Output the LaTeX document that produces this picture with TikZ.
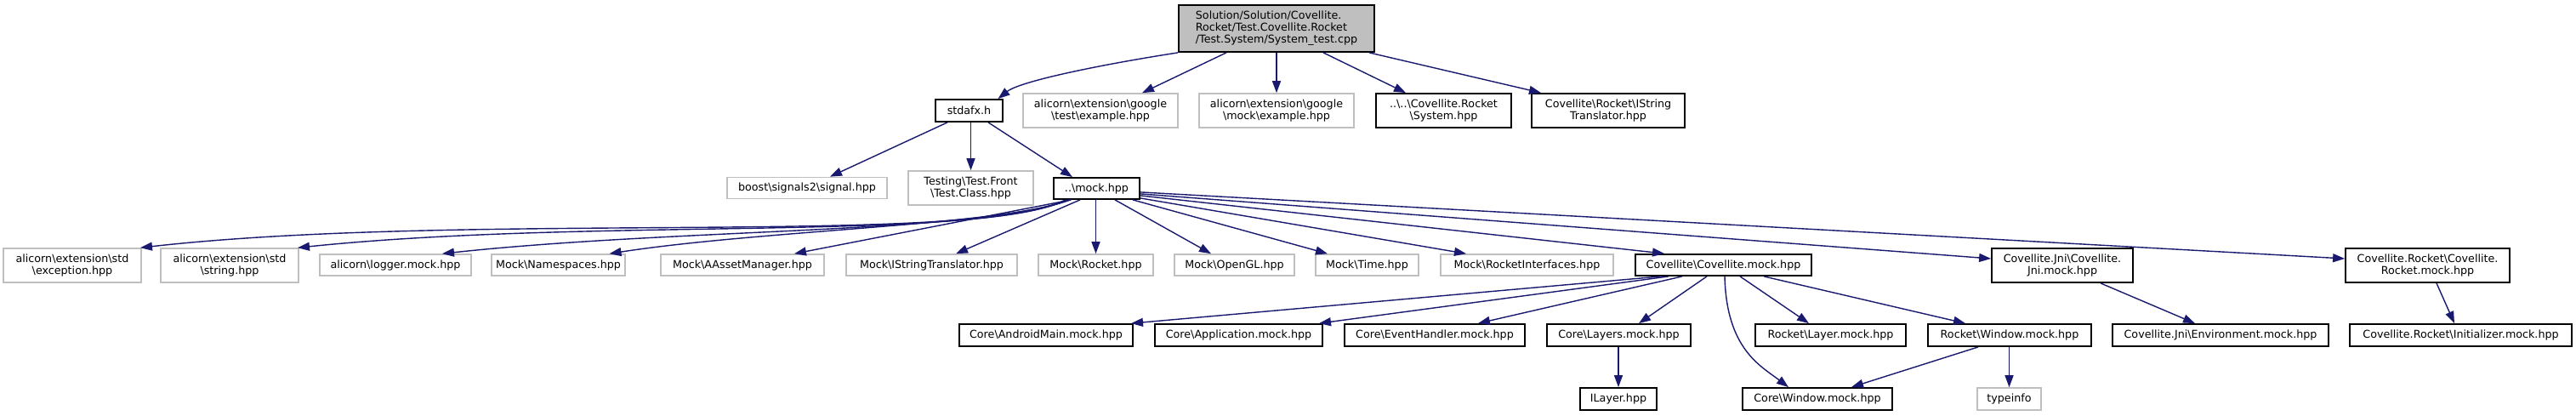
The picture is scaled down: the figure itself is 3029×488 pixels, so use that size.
\documentclass[tikz,border=0pt]{standalone}
\usepackage{fontspec}
\setmainfont{DejaVu Sans}
\usetikzlibrary{arrows.meta,calc}
\definecolor{edgeblue}{HTML}{191970}
\definecolor{grayline}{HTML}{BFBFBF}
\newcommand{\bsl}{\textbackslash}
\begin{document}
\begin{tikzpicture}[x=1pt,y=-1pt,
  base/.style={draw, line width=1.6pt, inner sep=0pt, font=\fontsize{12.7}{14}\selectfont, align=center},
  docbox/.style={base, draw=black, line width=1.8pt},
  extbox/.style={base, draw=grayline},
  rootbox/.style={base, draw=black, line width=1.8pt, fill=grayline, align=left},
  edge/.style={draw=edgeblue, line width=1.4pt, -{Triangle[length=14pt,width=10pt]}}]
\fill[white] (0,0) rectangle (3029,488);
\useasboundingbox (0,0) rectangle (3029,488);
% row 0
\node[rootbox, minimum width=230pt, minimum height=55pt] (root) at (1501,33.5) {Solution/Solution/Covellite.\\Rocket/Test.Covellite.Rocket\\/Test.System/System\_test.cpp};
% row 1
\node[docbox, minimum width=79pt, minimum height=26pt] (stdafx) at (1139.5,130) {stdafx.h};
\node[extbox, minimum width=182pt, minimum height=40pt] (gtest) at (1294,130) {alicorn\bsl extension\bsl google\\\bsl test\bsl example.hpp};
\node[extbox, minimum width=182pt, minimum height=40pt] (gmock) at (1501,130) {alicorn\bsl extension\bsl google\\\bsl mock\bsl example.hpp};
\node[docbox, minimum width=159pt, minimum height=40pt] (system) at (1697.5,130) {..\bsl ..\bsl Covellite.Rocket\\\bsl System.hpp};
\node[docbox, minimum width=180pt, minimum height=40pt] (istr) at (1891,130) {Covellite\bsl Rocket\bsl IString\\Translator.hpp};
% row 2
\node[extbox, minimum width=188pt, minimum height=25pt] (boost) at (949,221) {boost\bsl signals2\bsl signal.hpp};
\node[extbox, minimum width=147pt, minimum height=40pt] (testing) at (1141.5,221) {Testing\bsl Test.Front\\\bsl Test.Class.hpp};
\node[docbox, minimum width=101pt, minimum height=25pt] (mock) at (1289.5,221.5) {..\bsl mock.hpp};
% row 3
\node[extbox, minimum width=162pt, minimum height=40pt] (exception) at (85,312) {alicorn\bsl extension\bsl std\\\bsl exception.hpp};
\node[extbox, minimum width=162pt, minimum height=40pt] (string) at (270,312) {alicorn\bsl extension\bsl std\\\bsl string.hpp};
\node[extbox, minimum width=178pt, minimum height=25pt] (logger) at (465,311.5) {alicorn\bsl logger.mock.hpp};
\node[extbox, minimum width=157pt, minimum height=25pt] (namespaces) at (656.5,311.5) {Mock\bsl Namespaces.hpp};
\node[extbox, minimum width=192pt, minimum height=25pt] (aasset) at (873,311.5) {Mock\bsl AAssetManager.hpp};
\node[extbox, minimum width=201pt, minimum height=25pt] (mistr) at (1095.5,311.5) {Mock\bsl IStringTranslator.hpp};
\node[extbox, minimum width=135pt, minimum height=25pt] (mrocket) at (1288.5,311.5) {Mock\bsl Rocket.hpp};
\node[extbox, minimum width=141pt, minimum height=25pt] (opengl) at (1451.5,311.5) {Mock\bsl OpenGL.hpp};
\node[extbox, minimum width=121pt, minimum height=25pt] (time) at (1607.5,311.5) {Mock\bsl Time.hpp};
\node[extbox, minimum width=203pt, minimum height=25pt] (rint) at (1795.5,311.5) {Mock\bsl RocketInterfaces.hpp};
\node[docbox, minimum width=207pt, minimum height=25pt] (cmock) at (2026.5,311.5) {Covellite\bsl Covellite.mock.hpp};
\node[docbox, minimum width=166pt, minimum height=40pt] (jni) at (2425,312) {Covellite.Jni\bsl Covellite.\\Jni.mock.hpp};
\node[docbox, minimum width=193pt, minimum height=40pt] (rmock) at (2854.5,312) {Covellite.Rocket\bsl Covellite.\\Rocket.mock.hpp};
% row 4
\node[docbox, minimum width=204pt, minimum height=26pt] (android) at (1230,394) {Core\bsl AndroidMain.mock.hpp};
\node[docbox, minimum width=197pt, minimum height=26pt] (app) at (1456.5,394) {Core\bsl Application.mock.hpp};
\node[docbox, minimum width=212pt, minimum height=26pt] (event) at (1687,394) {Core\bsl EventHandler.mock.hpp};
\node[docbox, minimum width=169pt, minimum height=26pt] (layers) at (1903.5,394) {Core\bsl Layers.mock.hpp};
\node[docbox, minimum width=177pt, minimum height=26pt] (rlayer) at (2152.5,394) {Rocket\bsl Layer.mock.hpp};
\node[docbox, minimum width=192pt, minimum height=26pt] (rwin) at (2363,394) {Rocket\bsl Window.mock.hpp};
\node[docbox, minimum width=254pt, minimum height=26pt] (env) at (2611,394) {Covellite.Jni\bsl Environment.mock.hpp};
\node[docbox, minimum width=261pt, minimum height=26pt] (init) at (2893.5,394) {Covellite.Rocket\bsl Initializer.mock.hpp};
% row 5
\node[docbox, minimum width=90pt, minimum height=26pt] (ilayer) at (1903,469) {ILayer.hpp};
\node[docbox, minimum width=176pt, minimum height=26pt] (cwin) at (2137,469) {Core\bsl Window.mock.hpp};
\node[extbox, minimum width=75pt, minimum height=26pt] (typeinfo) at (2362.5,469) {typeinfo};
% edges from root
\draw[edge] (root.south west) .. controls (1300,75) and (1200,95) .. ([xshift=34pt]stdafx.north);
\draw[edge] ([xshift=-59pt]root.south) -- ([xshift=49pt]gtest.north);
\draw[edge] (root.south) -- (gmock.north);
\draw[edge] ([xshift=55pt]root.south) -- ([xshift=-44.5pt]system.north);
\draw[edge] ([xshift=109pt]root.south) -- ([xshift=-79pt]istr.north);
% edges from stdafx
\draw[edge] ([xshift=-25.5pt]stdafx.south) -- ([xshift=27pt]boost.north);
\draw[edge] (testing.north |- stdafx.south) -- (testing.north);
\draw[edge] ([xshift=22.5pt]stdafx.south) -- ([xshift=-28.5pt]mock.north);
% edges from mock
\draw[edge] ([xshift=-37pt]mock.south) .. controls (1150,290) and (550,248) .. ([xshift=80pt]exception.north);
\draw[edge] ([xshift=-35pt]mock.south) .. controls (1150,285) and (700,255) .. ([xshift=80pt]string.north);
\draw[edge] ([xshift=-33pt]mock.south) .. controls (1150,275) and (800,268) .. ([xshift=55pt]logger.north);
\draw[edge] ([xshift=-31pt]mock.south) .. controls (1180,265) and (900,270) .. ([xshift=60pt]namespaces.north);
\draw[edge] ([xshift=-30pt]mock.south) -- ([xshift=61pt]aasset.north);
\draw[edge] ([xshift=-19.5pt]mock.south) -- ([xshift=28.5pt]mistr.north);
\draw[edge] (mrocket.north |- mock.south) -- (mrocket.north);
\draw[edge] ([xshift=21.5pt]mock.south) -- ([xshift=-27.5pt]opengl.north);
\draw[edge] ([xshift=42.5pt]mock.south) -- ([xshift=-46.5pt]time.north);
\draw[edge] ([yshift=2pt]mock.south east) -- ([xshift=-71.5pt]rint.north);
\draw[edge] ([yshift=5pt]mock.south east) -- ([xshift=-69.5pt]cmock.north);
\draw[edge] ([yshift=7pt]mock.south east) -- ([yshift=8pt]jni.west);
\draw[edge] ([yshift=9pt]mock.south east) -- ([yshift=8pt]rmock.west);
% edges from cmock
\draw[edge] ([xshift=-73.5pt]cmock.south) -- ([xshift=100pt]android.north);
\draw[edge] ([xshift=-64.5pt]cmock.south) -- ([xshift=94.5pt]app.north);
\draw[edge] ([xshift=-48.5pt]cmock.south) -- ([xshift=51pt]event.north);
\draw[edge] ([xshift=-19.5pt]cmock.south) -- ([xshift=23.5pt]layers.north);
\draw[edge] ([xshift=19.5pt]cmock.south) -- ([xshift=-25.5pt]rlayer.north);
\draw[edge] ([xshift=47.5pt]cmock.south) -- ([xshift=-52pt]rwin.north);
\draw[edge] ([xshift=1.5pt]cmock.south) .. controls (2030,410) and (2070,430) .. ([xshift=-34pt]cwin.north);
% lower edges
\draw[edge] (ilayer.north |- layers.south) -- (ilayer.north);
\draw[edge] ([xshift=-37pt]rwin.south) -- ([xshift=40pt]cwin.north);
\draw[edge] (typeinfo.north |- rwin.south) -- (typeinfo.north);
\draw[edge] ([xshift=45pt]jni.south) -- ([xshift=-30pt]env.north);
\draw[edge] ([xshift=10.5pt]rmock.south) -- ([xshift=-7.5pt]init.north);
\end{tikzpicture}
\end{document}
